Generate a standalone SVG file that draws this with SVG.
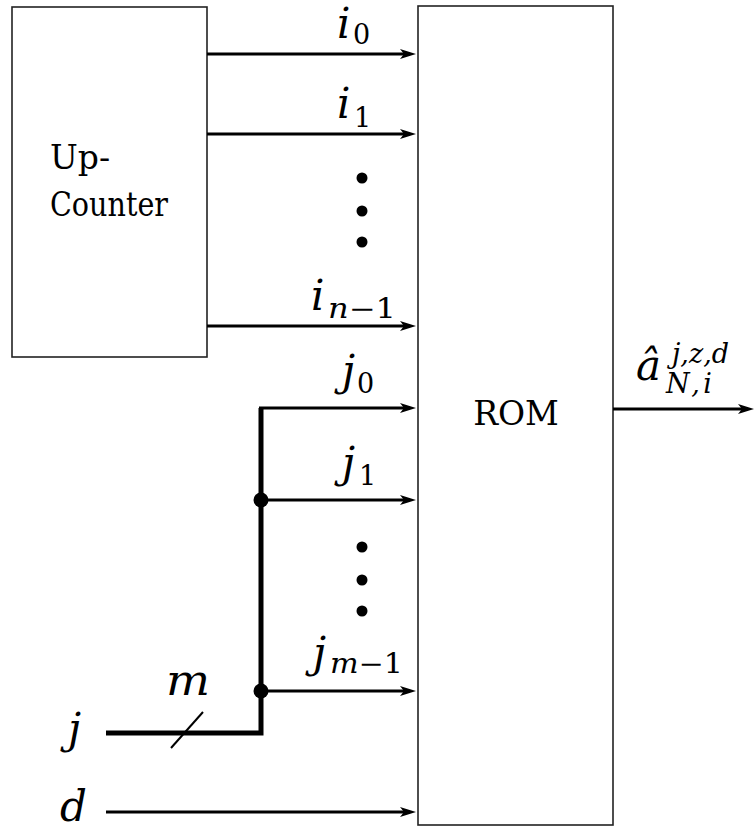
<svg xmlns="http://www.w3.org/2000/svg" width="754" height="832" viewBox="0 0 754 832">
<style>
text{font-family:'DejaVu Serif',serif;fill:#000}
.txt{font-size:33px}
.math{font-style:italic;font-size:42px}
.sub{font-size:27px}
.it{font-style:italic}
.box{fill:#fff;stroke:#222;stroke-width:1.6}
.wire{stroke:#000;stroke-width:3;fill:none}
.bus{stroke:#000;stroke-width:5;fill:none;stroke-linejoin:miter}
.dot{fill:#000}
</style>
<defs>
<marker id="arr" viewBox="0 0 16 10" refX="10" refY="5" markerWidth="16" markerHeight="10" markerUnits="userSpaceOnUse" orient="auto">
<path d="M0,0 L16,5 L0,10 L4,5 Z" fill="#000"/>
</marker>
</defs>
<rect width="754" height="832" fill="#fff"/>

<g id="up-counter">
<rect class="box" x="12" y="7" width="195" height="350"/>
<text class="txt" x="50" y="169">Up-</text>
<text class="txt" x="50" y="216" textLength="118" lengthAdjust="spacingAndGlyphs">Counter</text>
</g>

<g id="rom">
<rect class="box" x="418" y="6" width="195" height="819"/>
<text class="txt" x="516" y="425" text-anchor="middle">ROM</text>
</g>

<g id="connectors">
<line class="wire" x1="207" y1="54" x2="410" y2="54" marker-end="url(#arr)"/>
<line class="wire" x1="207" y1="134" x2="410" y2="134" marker-end="url(#arr)"/>
<line class="wire" x1="207" y1="326" x2="410" y2="326" marker-end="url(#arr)"/>
<path class="bus" d="M106,733 H261 V408"/>
<line class="wire" x1="259" y1="408" x2="410" y2="408" marker-end="url(#arr)"/>
<line class="wire" x1="261" y1="500" x2="410" y2="500" marker-end="url(#arr)"/>
<line class="wire" x1="261" y1="691" x2="410" y2="691" marker-end="url(#arr)"/>
<line class="wire" x1="106" y1="812" x2="410" y2="812" marker-end="url(#arr)"/>
<line class="wire" x1="613" y1="409" x2="748" y2="409" marker-end="url(#arr)"/>
<line stroke="#000" stroke-width="2" x1="171" y1="748" x2="203" y2="712"/>
<circle class="dot" cx="261" cy="500" r="7.5"/>
<circle class="dot" cx="261" cy="691" r="7.5"/>
<circle class="dot" cx="362" cy="178" r="5.5"/>
<circle class="dot" cx="362" cy="211" r="5.5"/>
<circle class="dot" cx="362" cy="242" r="5.5"/>
<circle class="dot" cx="362" cy="547" r="5.5"/>
<circle class="dot" cx="362" cy="580" r="5.5"/>
<circle class="dot" cx="362" cy="611" r="5.5"/>
</g>

<g id="labels">
<text class="math" x="337" y="38">i</text>
<text class="sub" x="353" y="44">0</text>
<text class="math" x="337" y="118">i</text>
<text class="sub" x="354" y="127">1</text>
<text class="math" x="311" y="310">i</text>
<text class="sub" x="328" y="318" textLength="68" lengthAdjust="spacingAndGlyphs"><tspan class="it">n</tspan>−1</text>
<text class="math" x="342" y="385">j</text>
<text class="sub" x="357" y="393">0</text>
<text class="math" x="342" y="477">j</text>
<text class="sub" x="359" y="485">1</text>
<text class="math" x="313" y="667">j</text>
<text class="sub" x="330" y="673" textLength="73" lengthAdjust="spacingAndGlyphs"><tspan class="it">m</tspan>−1</text>
<text class="math" x="166" y="695" textLength="44" lengthAdjust="spacingAndGlyphs">m</text>
<text class="math" x="68" y="743">j</text>
<text class="math" x="60" y="821">d</text>
<text class="math" x="636" y="380" font-size="40">â</text>
<text class="sub it" x="672" y="363" font-size="26">j,z,d</text>
<text class="sub it" x="666" y="393" font-size="26" textLength="46" lengthAdjust="spacing">N,i</text>
</g>
</svg>
